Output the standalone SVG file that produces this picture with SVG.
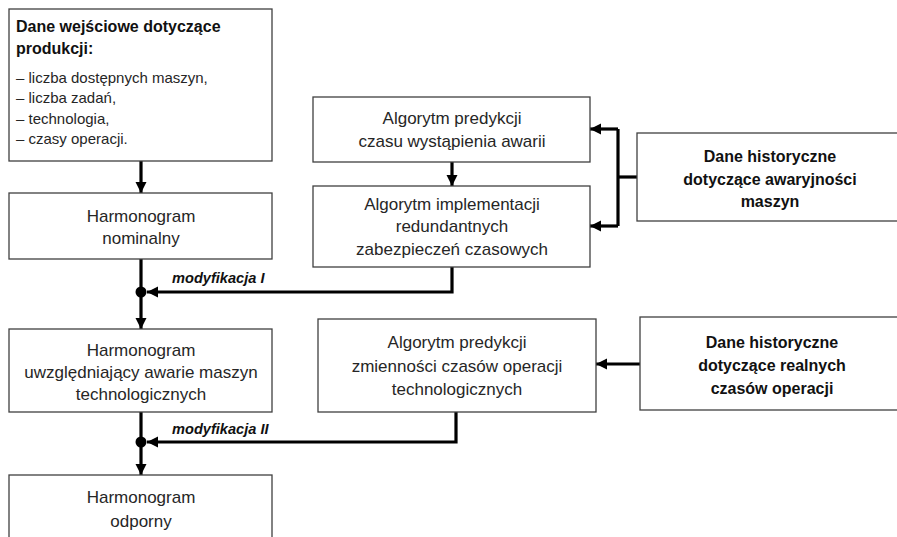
<svg xmlns="http://www.w3.org/2000/svg" width="897" height="537" viewBox="0 0 897 537">
<style>
  .box { fill: #ffffff; stroke: #404040; stroke-width: 1.3; }
  .t { font-family: "Liberation Sans", Arial, sans-serif; font-size: 17px; fill: #262626; text-anchor: middle; }
  .tb { font-family: "Liberation Sans", Arial, sans-serif; font-size: 16px; font-weight: bold; fill: #111111; text-anchor: middle; }
  .tl { font-family: "Liberation Sans", Arial, sans-serif; font-size: 15px; fill: #262626; }
  .tlb { font-family: "Liberation Sans", Arial, sans-serif; font-size: 16px; font-weight: bold; fill: #111111; }
  .mod { font-family: "Liberation Sans", Arial, sans-serif; font-size: 14.6px; font-weight: bold; font-style: italic; fill: #111111; }
  .c { fill: none; stroke: #000000; stroke-width: 3.2; }
</style>
<defs>
  <marker id="ah" viewBox="0 0 10 10" refX="10" refY="5" markerWidth="3.5" markerHeight="3.5" orient="auto" markerUnits="strokeWidth">
    <path d="M0,0 L10,5 L0,10 Z" fill="#000000"/>
  </marker>
</defs>
<rect width="897" height="537" fill="#ffffff"/>

<g id="connectors">
  <line class="c" x1="141" y1="161" x2="141" y2="193" marker-end="url(#ah)"/>
  <line class="c" x1="141" y1="259" x2="141" y2="329" marker-end="url(#ah)"/>
  <line class="c" x1="141" y1="412" x2="141" y2="475" marker-end="url(#ah)"/>
  <polyline class="c" points="452,267 452,292 147,292" marker-end="url(#ah)"/>
  <polyline class="c" points="456,412 456,442 147,442" marker-end="url(#ah)"/>
  <circle cx="141" cy="292" r="5.5" fill="#000000"/>
  <circle cx="141" cy="442" r="5.5" fill="#000000"/>
  <line class="c" x1="452" y1="162" x2="452" y2="186" marker-end="url(#ah)"/>
  <line class="c" x1="637" y1="177" x2="618" y2="177"/>
  <polyline class="c" points="618,129 618,226"/>
  <line class="c" x1="618" y1="129" x2="590" y2="129" marker-end="url(#ah)"/>
  <line class="c" x1="618" y1="226" x2="590" y2="226" marker-end="url(#ah)"/>
  <line class="c" x1="640" y1="364" x2="596" y2="364" marker-end="url(#ah)"/>
  <text class="mod" x="172" y="283">modyfikacja I</text>
  <text class="mod" x="172" y="434">modyfikacja II</text>
</g>

<g id="dane-wejsciowe">
  <rect class="box" x="9" y="9" width="263" height="152"/>
  <text class="tlb" x="16" y="32">Dane wejściowe dotyczące</text>
  <text class="tlb" x="16" y="54">produkcji:</text>
  <text class="tl" x="16" y="83">– liczba dostępnych maszyn,</text>
  <text class="tl" x="16" y="103">– liczba zadań,</text>
  <text class="tl" x="16" y="124">– technologia,</text>
  <text class="tl" x="16" y="144">– czasy operacji.</text>
</g>

<g id="harmonogram-nominalny">
  <rect class="box" x="9" y="193" width="263" height="66"/>
  <text class="t" x="141" y="222">Harmonogram</text>
  <text class="t" x="141" y="244">nominalny</text>
</g>

<g id="harmonogram-awarie">
  <rect class="box" x="9" y="329" width="263" height="83"/>
  <text class="t" x="141" y="356">Harmonogram</text>
  <text class="t" x="141" y="378">uwzględniający awarie maszyn</text>
  <text class="t" x="141" y="400">technologicznych</text>
</g>

<g id="harmonogram-odporny">
  <rect class="box" x="9" y="475" width="263" height="70"/>
  <text class="t" x="141" y="503">Harmonogram</text>
  <text class="t" x="141" y="527">odporny</text>
</g>

<g id="algorytm-predykcji-awarii">
  <rect class="box" x="313" y="97" width="277" height="65"/>
  <text class="t" x="452" y="124">Algorytm predykcji</text>
  <text class="t" x="452" y="147">czasu wystąpienia awarii</text>
</g>

<g id="algorytm-implementacji">
  <rect class="box" x="313" y="186" width="277" height="81"/>
  <text class="t" x="452" y="210">Algorytm implementacji</text>
  <text class="t" x="452" y="232">redundantnych</text>
  <text class="t" x="452" y="255">zabezpieczeń czasowych</text>
</g>

<g id="dane-awaryjnosci">
  <rect class="box" x="637" y="133" width="270" height="88"/>
  <text class="tb" x="770" y="162">Dane historyczne</text>
  <text class="tb" x="770" y="185">dotyczące awaryjności</text>
  <text class="tb" x="770" y="207">maszyn</text>
</g>

<g id="algorytm-predykcji-czasow">
  <rect class="box" x="318" y="319" width="278" height="93"/>
  <text class="t" x="457" y="348">Algorytm predykcji</text>
  <text class="t" x="457" y="372">zmienności czasów operacji</text>
  <text class="t" x="457" y="395">technologicznych</text>
</g>

<g id="dane-realnych-czasow">
  <rect class="box" x="640" y="317" width="266" height="93"/>
  <text class="tb" x="772" y="348">Dane historyczne</text>
  <text class="tb" x="772" y="371">dotyczące realnych</text>
  <text class="tb" x="772" y="394">czasów operacji</text>
</g>
</svg>
